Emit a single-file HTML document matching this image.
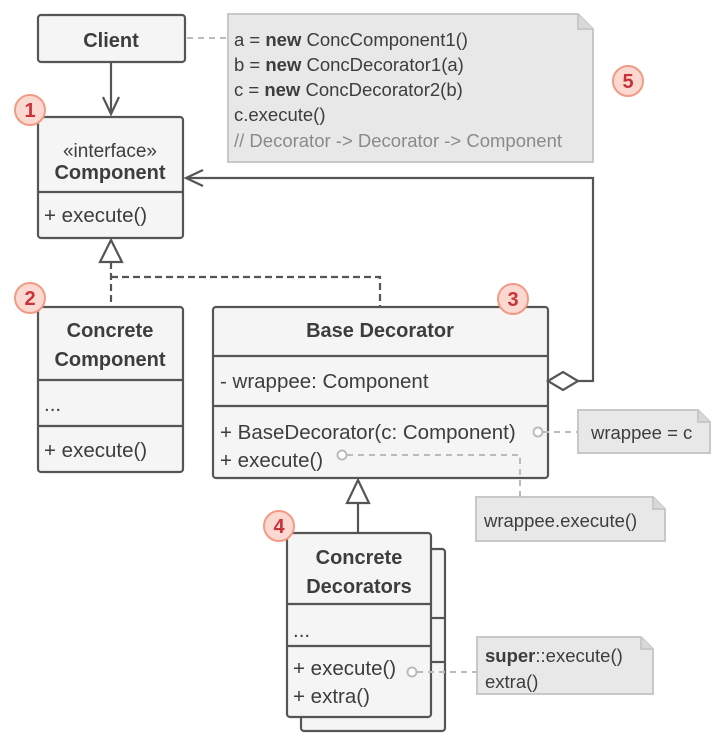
<!DOCTYPE html>
<html><head><style>body{margin:0;background:#fff}svg{display:block}text{font-family:"Liberation Sans",sans-serif;fill:#3d3d3d}</style></head><body>
<svg width="715" height="741" viewBox="0 0 715 741" xmlns="http://www.w3.org/2000/svg">
<g stroke="#555" stroke-width="2.2" fill="#f5f5f5">
<rect x="301" y="549" width="144" height="182" rx="3"/>
<line x1="431" y1="618" x2="445" y2="618"/><line x1="431" y1="662" x2="445" y2="662"/>
<rect x="38" y="15" width="147" height="47" rx="3"/>
<rect x="38" y="117" width="145" height="121" rx="3"/>
<line x1="38" y1="192" x2="183" y2="192"/>
<rect x="38" y="307" width="145" height="165" rx="3"/>
<line x1="38" y1="380" x2="183" y2="380"/><line x1="38" y1="426" x2="183" y2="426"/>
<rect x="213" y="307" width="335" height="171" rx="3"/>
<line x1="213" y1="356" x2="548" y2="356"/><line x1="213" y1="406" x2="548" y2="406"/>
<rect x="287" y="533" width="144" height="184" rx="3"/>
<line x1="287" y1="604" x2="431" y2="604"/><line x1="287" y1="646" x2="431" y2="646"/>
</g>
<g fill="#e8e8e8" stroke="#c8c8c8" stroke-width="2">
<path d="M228 14 H578 L593 29 V162 H228 Z"/><path d="M578 14 V29 H593" fill="#d8d8d8"/>
<path d="M578 410 H698 L710 422 V453 H578 Z"/><path d="M698 410 V422 H710" fill="#d8d8d8"/>
<path d="M476 497 H653 L665 509 V541 H476 Z"/><path d="M653 497 V509 H665" fill="#d8d8d8"/>
<path d="M477 637 H641 L653 649 V694 H477 Z"/><path d="M641 637 V649 H653" fill="#d8d8d8"/>
</g>
<g stroke="#555" stroke-width="2.2" fill="none">
<line x1="111" y1="62" x2="111" y2="114"/><path d="M103 97 L111 114 L119 97"/>
<path d="M578 381 H593 V178 H186"/><path d="M203 170 L186 178 L203 186"/>
<path d="M548 381 L563 372 L578 381 L563 390 Z" fill="#fff"/>
<path d="M111 240 L100 262 H122 Z" fill="#fff"/>
<line x1="358" y1="503" x2="358" y2="533"/>
<path d="M358 480 L347 503 H369 Z" fill="#fff"/>
<path d="M111 262 V307 M111 277 H380 V307" stroke-dasharray="7,4"/>
</g>
<g stroke="#bbb" stroke-width="2" fill="none" stroke-dasharray="6,5">
<line x1="187" y1="38" x2="228" y2="38"/>
<line x1="543" y1="432" x2="578" y2="432"/>
<path d="M347 455 H520 V497"/>
<line x1="417" y1="672" x2="477" y2="672"/>
</g>
<g stroke="#bbb" stroke-width="2" fill="#fff">
<circle cx="538" cy="432" r="4.5"/><circle cx="342" cy="455" r="4.5"/><circle cx="412" cy="672" r="4.5"/>
</g>
<g fill="#fcd9d0" stroke="#f29a85" stroke-width="2">
<circle cx="30" cy="110" r="15"/><circle cx="30" cy="298" r="15"/><circle cx="513" cy="299" r="15"/><circle cx="279" cy="526" r="15"/><circle cx="628" cy="81" r="15"/>
</g>
<g font-size="20" font-weight="bold" text-anchor="middle">
<text x="30" y="117" style="fill:#c8323a">1</text><text x="30" y="305" style="fill:#c8323a">2</text><text x="513" y="306" style="fill:#c8323a">3</text><text x="279" y="533" style="fill:#c8323a">4</text><text x="628" y="88" style="fill:#c8323a">5</text>
</g>
<g font-size="20" text-anchor="middle" font-weight="bold">
<text x="111" y="47">Client</text>
<text x="110" y="179">Component</text>
<text x="110" y="337">Concrete</text><text x="110" y="366">Component</text>
<text x="380" y="337">Base Decorator</text>
<text x="359" y="564">Concrete</text><text x="359" y="593">Decorators</text>
</g>
<g font-size="20.5">
<text x="110" y="157" text-anchor="middle" font-size="19">«interface»</text>
<text x="44" y="222">+ execute()</text>
<text x="44" y="411">...</text>
<text x="44" y="457">+ execute()</text>
<text x="220" y="388">- wrappee: Component</text>
<text x="220" y="439">+ BaseDecorator(c: Component)</text>
<text x="220" y="467">+ execute()</text>
<text x="293" y="637">...</text>
<text x="293" y="675">+ execute()</text>
<text x="293" y="703">+ extra()</text>
</g>
<g font-size="18.5">
<text x="234" y="46">a = <tspan font-weight="bold">new</tspan> ConcComponent1()</text>
<text x="234" y="71">b = <tspan font-weight="bold">new</tspan> ConcDecorator1(a)</text>
<text x="234" y="96">c = <tspan font-weight="bold">new</tspan> ConcDecorator2(b)</text>
<text x="234" y="121">c.execute()</text>
<text x="234" y="147" style="fill:#8a8a8a">// Decorator -&gt; Decorator -&gt; Component</text>
<text x="591" y="439">wrappee = c</text>
<text x="484" y="527">wrappee.execute()</text>
<text x="485" y="662"><tspan font-weight="bold">super</tspan>::execute()</text>
<text x="485" y="688">extra()</text>
</g>
</svg>
</body></html>
